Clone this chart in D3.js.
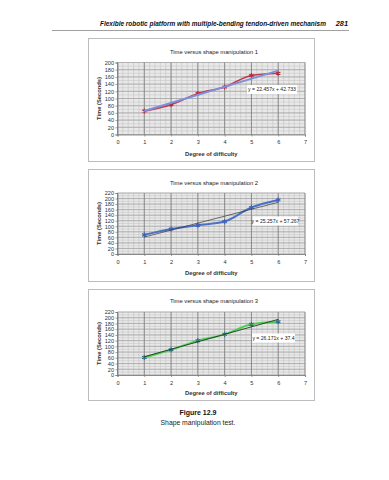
<!DOCTYPE html>
<html><head><meta charset="utf-8">
<script src="https://cdn.jsdelivr.net/npm/d3@7"></script>
<style>body{margin:0;background:#fff}svg{display:block}</style>
</head><body>
<script>
// ---- data ----
const difficulty = [1, 2, 3, 4, 5, 6];
const xTickValues = [0, 1, 2, 3, 4, 5, 6, 7];
const times1 = [65, 83, 114, 132, 164, 170];
const times2 = [69, 90, 104, 117, 168, 195];
const times3 = [61, 88, 120, 142, 177, 186];
const yTicks1 = [0, 20, 40, 60, 80, 100, 120, 140, 160, 180, 200];
const yTicks23 = [0, 20, 40, 60, 80, 100, 120, 140, 160, 180, 200, 220];
const titles = ["Time versus shape manipulation 1", "Time versus shape manipulation 2", "Time versus shape manipulation 3"];
const equations = ["y = 22.457x + 42.733", "y = 25.257x + 57.267", "y = 26.171x + 37.4"];
const header = "Flexible robotic platform with multiple-bending tendon-driven mechanism";
const pageNumber = "281";
const figLabel = "Figure 12.9";
const figCaption = "Shape manipulation test.";
const xTitle = "Degree of difficulty";
const yTitle = "Time (Seconds)";

const W = 389, H = 480;
const svg = d3.select("body").append("svg").attr("width", W).attr("height", H);
const font = "'Liberation Sans', Arial, sans-serif";

// header
const ht = svg.append("text").attr("x", 0).attr("y", 0).attr("font-family", font)
  .attr("font-size", 7.4).attr("font-weight", "bold").attr("font-style", "italic").attr("fill", "#111").text(header);
const hw = ht.node().getComputedTextLength();
ht.attr("transform", `translate(100,25.5) scale(${226 / hw},1)`);
svg.append("text").attr("x", 348).attr("y", 25.5).attr("text-anchor", "end").attr("font-family", font)
  .attr("font-size", 7.4).attr("font-weight", "bold").attr("font-style", "italic").attr("fill", "#111").text(pageNumber);
svg.append("line").attr("x1", 52).attr("x2", 349).attr("y1", 30.5).attr("y2", 30.5)
  .attr("stroke", "#777").attr("stroke-width", 0.7);

const charts = [
  { values: times1, yTicks: yTicks1, yMax: 200, box: [38, 161], plot: [62.5, 134.5], titleY: 51.5, xLabY: 144, xTitleY: 154,
    lineColor: "#c0394a", trendColor: "#7f8fdc", trendW: 2, lineW: 1.6, markerColor: "#b52a3a", eq: [247, 297, 89.5] },
  { values: times2, yTicks: yTicks23, yMax: 220, box: [169, 281], plot: [193, 254], titleY: 183, xLabY: 264, xTitleY: 273,
    lineColor: "#4a70c8", trendColor: "#333", trendW: 0.7, lineW: 2, markerColor: "#3b62b8", eq: [253, 298, 221] },
  { values: times3, yTicks: yTicks23, yMax: 220, box: [289, 400], plot: [312, 375], titleY: 301, xLabY: 385, xTitleY: 393,
    lineColor: "#4fcf4f", trendColor: "#1e3a2a", trendW: 0.9, lineW: 2, markerColor: "#2a6e8a", eq: [252, 295, 338] }
];

charts.forEach((c, i) => {
  const g = svg.append("g");
  g.append("rect").attr("x", 88.5).attr("y", c.box[0] + 0.5).attr("width", 226).attr("height", c.box[1] - c.box[0])
    .attr("fill", "#fff").attr("stroke", "#bdbdbd").attr("stroke-width", 1);

  const x = d3.scaleLinear().domain([0, 7]).range([117.5, 305]);
  const y = d3.scaleLinear().domain([0, c.yMax]).range([c.plot[1], c.plot[0]]);

  // plot background
  g.append("rect").attr("x", x(0)).attr("y", y(c.yMax)).attr("width", x(7) - x(0)).attr("height", y(0) - y(c.yMax))
    .attr("fill", "#e9e9e9");
  // minor grid
  const minorX = d3.range(0, 7.001, 0.2);
  g.append("g").selectAll("line").data(minorX).join("line")
    .attr("x1", d => x(d)).attr("x2", d => x(d)).attr("y1", y(0)).attr("y2", y(c.yMax))
    .attr("stroke", "#c2c2c2").attr("stroke-width", 0.6);
  const minorY = d3.range(0, c.yMax + 0.001, 10);
  g.append("g").selectAll("line").data(minorY).join("line")
    .attr("x1", x(0)).attr("x2", x(7)).attr("y1", d => y(d)).attr("y2", d => y(d))
    .attr("stroke", "#c8c8c8").attr("stroke-width", 0.6);
  // major grid
  g.append("g").selectAll("line").data(c.yTicks).join("line")
    .attr("x1", x(0)).attr("x2", x(7)).attr("y1", d => y(d)).attr("y2", d => y(d))
    .attr("stroke", "#a0a0a0").attr("stroke-width", 0.7);
  g.append("g").selectAll("line").data(xTickValues).join("line")
    .attr("x1", d => x(d)).attr("x2", d => x(d)).attr("y1", y(0)).attr("y2", y(c.yMax))
    .attr("stroke", "#7a7a7a").attr("stroke-width", 0.8);

  // axes
  const yAxis = d3.axisLeft(y).tickValues(c.yTicks).tickFormat(d3.format("d")).tickSize(2).tickPadding(1.5);
  const ya = g.append("g").attr("transform", `translate(${x(0)},0)`).call(yAxis);
  const xAxis = d3.axisBottom(x).tickValues(xTickValues).tickFormat(d3.format("d")).tickSize(2).tickPadding(c.xLabY - y(0) - 6);
  const xa = g.append("g").attr("transform", `translate(0,${y(0)})`).call(xAxis);
  [ya, xa].forEach(a => {
    a.select(".domain").attr("stroke", "#777").attr("stroke-width", 0.8);
    a.selectAll(".tick line").attr("stroke", "#777").attr("stroke-width", 0.7);
    a.selectAll("text").attr("font-family", font).attr("font-size", 5.6).attr("fill", "#333");
  });

  // titles
  g.append("text").attr("x", 214).attr("y", c.titleY + 2).attr("text-anchor", "middle").attr("font-family", font)
    .attr("font-size", 5.8).attr("fill", "#222").text(titles[i]);
  g.append("text").attr("x", x(3.5)).attr("y", c.xTitleY + 2).attr("text-anchor", "middle").attr("font-family", font)
    .attr("font-size", 5.8).attr("font-weight", "bold").attr("fill", "#333").text(xTitle);
  g.append("text").attr("transform", `translate(101,${(c.plot[0] + c.plot[1]) / 2}) rotate(-90)`)
    .attr("text-anchor", "middle").attr("font-family", font).attr("font-size", 5.8).attr("font-weight", "bold")
    .attr("fill", "#333").text(yTitle);

  // series
  const pts = difficulty.map((d, k) => [d, c.values[k]]);
  const mx = d3.mean(difficulty), my = d3.mean(c.values);
  const slope = d3.sum(pts, p => (p[0] - mx) * (p[1] - my)) / d3.sum(pts, p => (p[0] - mx) ** 2);
  const icpt = my - slope * mx;
  const x0 = d3.min(difficulty), x1 = d3.max(difficulty);

  const line = d3.line().x(p => x(p[0])).y(p => y(p[1])).curve(d3.curveMonotoneX);
  g.append("path").datum(pts).attr("d", line).attr("fill", "none").attr("stroke", c.lineColor)
    .attr("stroke-width", c.lineW);
  g.append("g").selectAll("path").data(pts).join("path")
    .attr("transform", p => `translate(${x(p[0])},${y(p[1])})`)
    .attr("d", d3.symbol(d3.symbolAsterisk, 18))
    .attr("fill", "none").attr("stroke", c.markerColor).attr("stroke-width", 1.1);
  g.append("line")
    .attr("x1", x(x0)).attr("y1", y(slope * x0 + icpt)).attr("x2", x(x1)).attr("y2", y(slope * x1 + icpt))
    .attr("stroke", c.trendColor).attr("stroke-width", c.trendW);

  // equation label
  const [lx, rx, cy] = c.eq;
  g.append("rect").attr("x", lx).attr("y", cy - 4.5).attr("width", rx - lx).attr("height", 9).attr("fill", "#fff");
  g.append("text").attr("x", (lx + rx) / 2).attr("y", cy + 1.8).attr("text-anchor", "middle").attr("font-family", font)
    .attr("font-size", 5.1).attr("fill", "#222").text(equations[i]);
});

// caption
svg.append("text").attr("x", 198).attr("y", 414.5).attr("text-anchor", "middle").attr("font-family", font)
  .attr("font-size", 7).attr("font-weight", "bold").attr("fill", "#111").text(figLabel);
svg.append("text").attr("x", 198).attr("y", 424.5).attr("text-anchor", "middle").attr("font-family", font)
  .attr("font-size", 6.8).attr("fill", "#222").text(figCaption);
</script>
</body></html>
